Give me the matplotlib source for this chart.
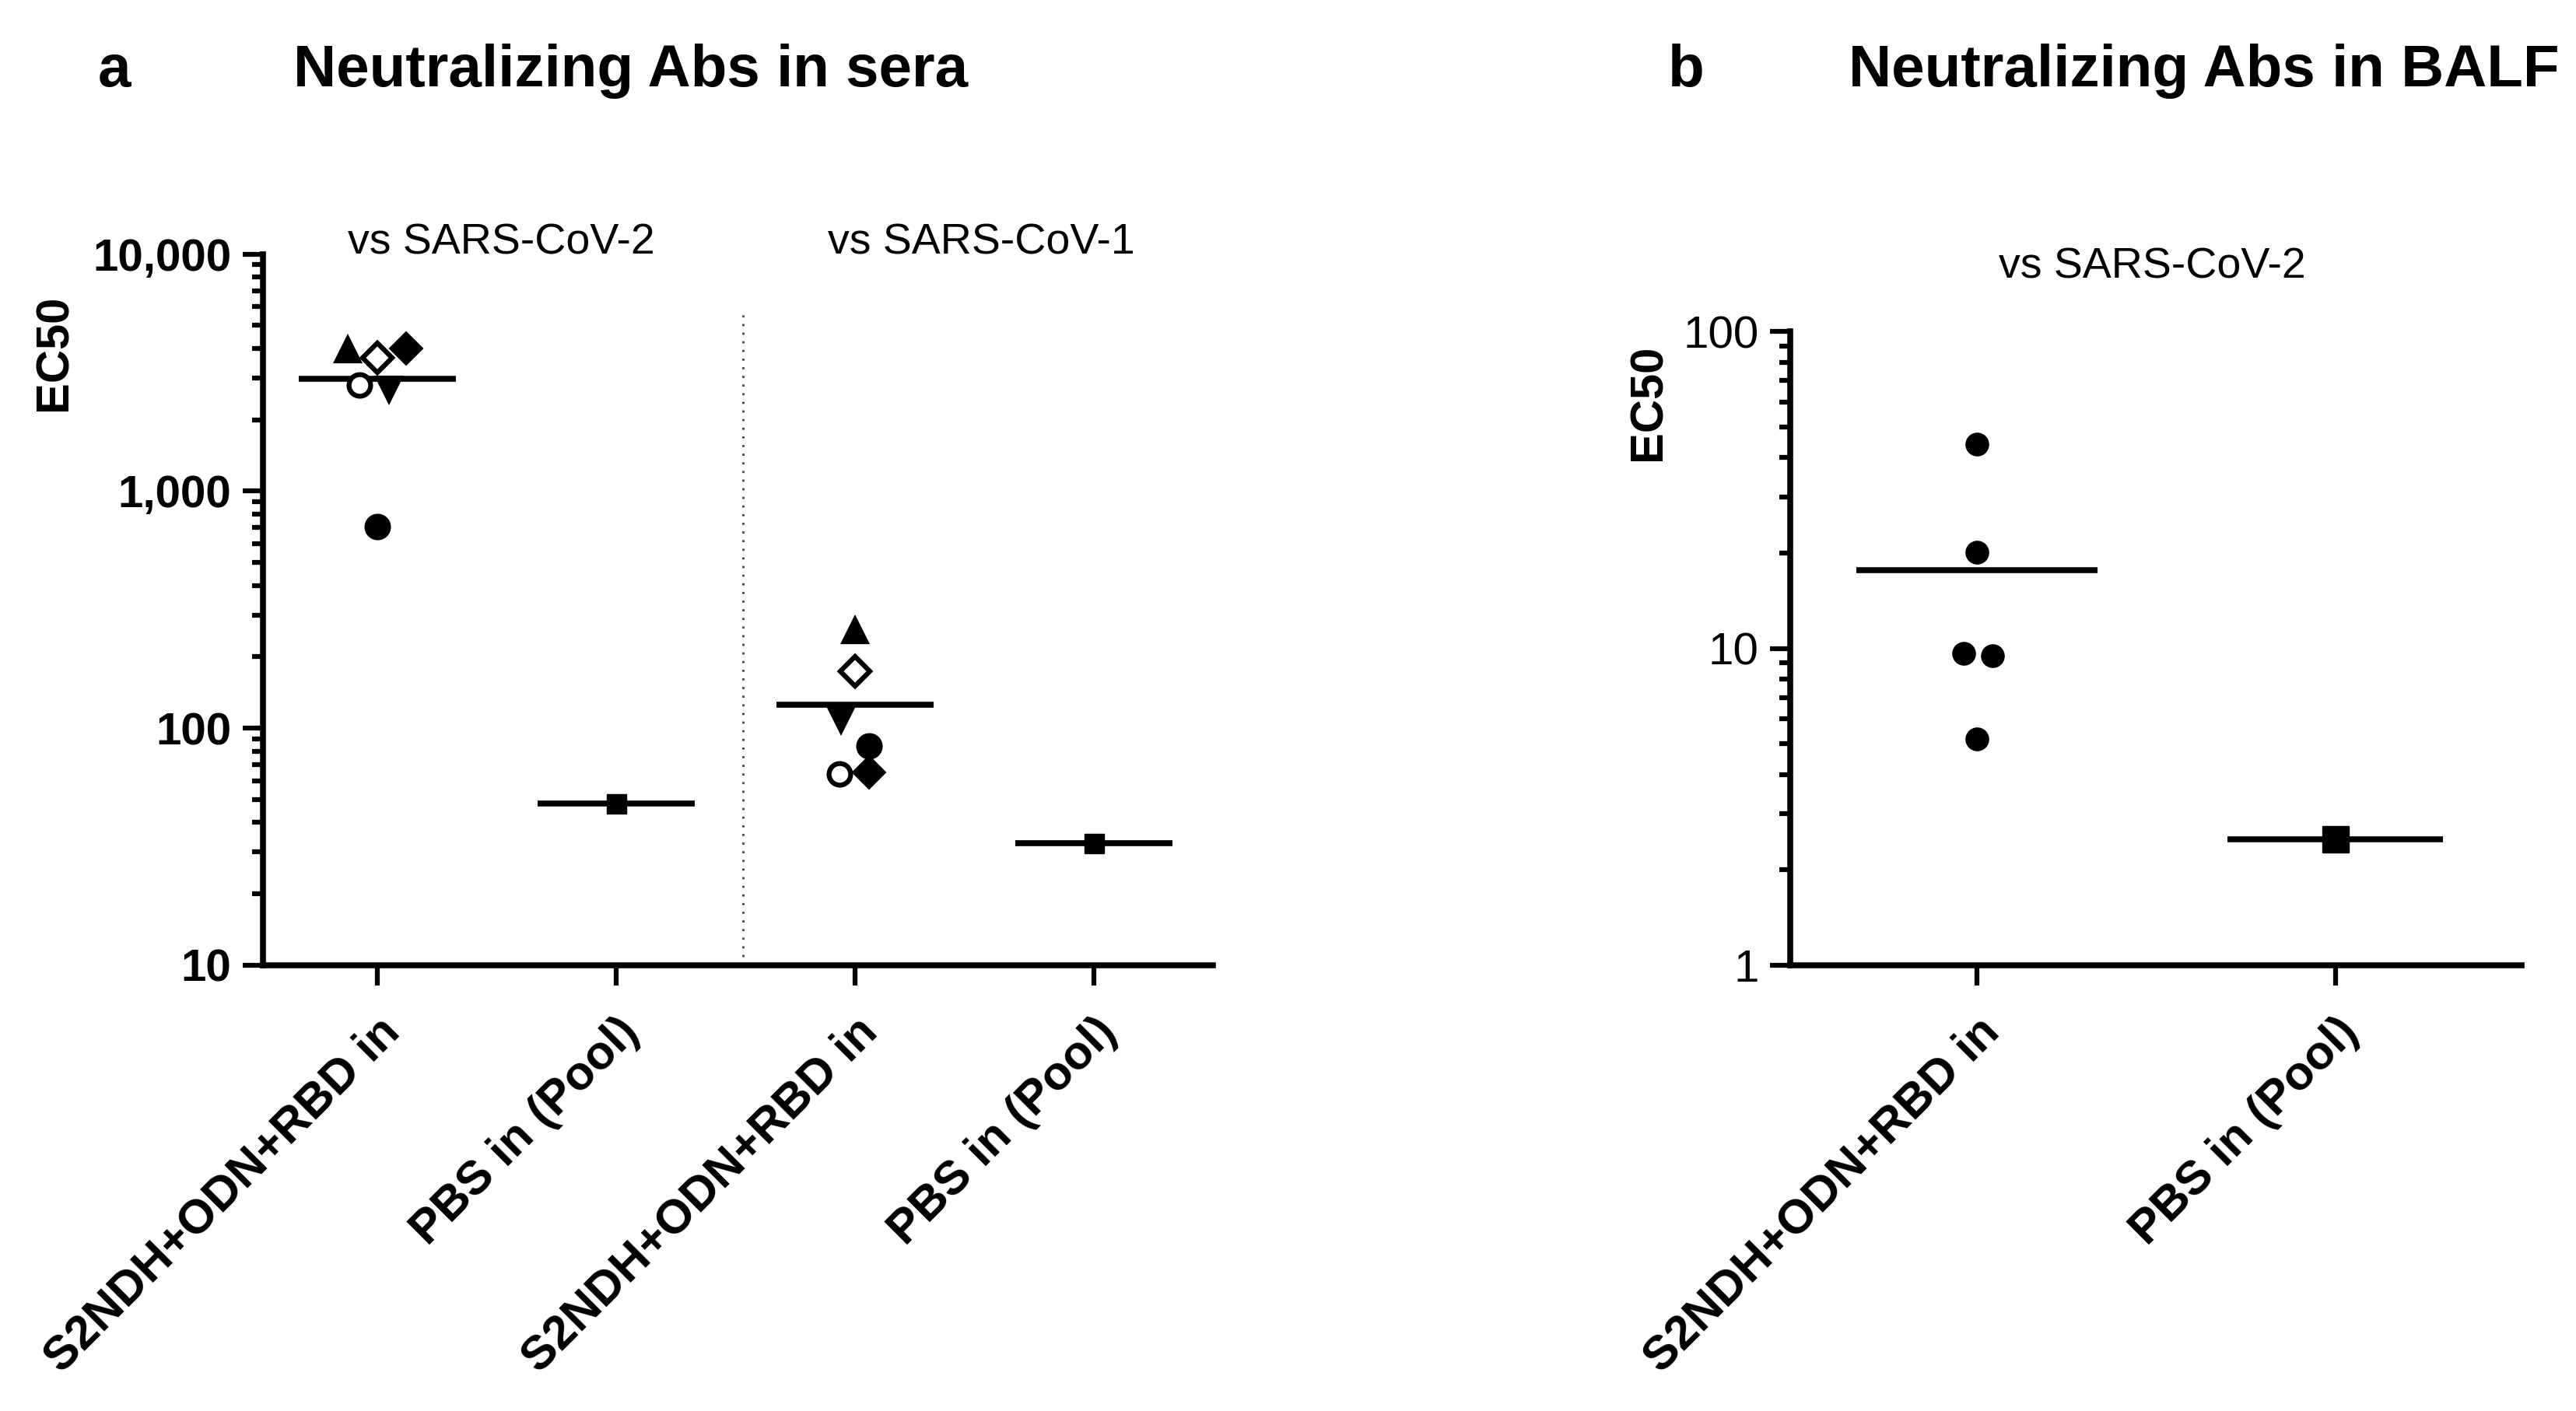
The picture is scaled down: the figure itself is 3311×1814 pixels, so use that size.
import numpy as np
import matplotlib
matplotlib.use("Agg")
import matplotlib.pyplot as plt
from matplotlib.ticker import FixedLocator, LogLocator, NullFormatter, FuncFormatter
import matplotlib.transforms as mtransforms

plt.rcParams["font.family"] = ["Liberation Sans", "DejaVu Sans"]

# ---- data ----
sera_groups = ["S2NDH+ODN+RBD in", "PBS in (Pool)", "S2NDH+ODN+RBD in", "PBS in (Pool)"]
# mice markers: filled circle, up triangle, down triangle, filled diamond, open circle, open diamond
sera_cov2 = [706, 3940, 2700, 4000, 2800, 3650]
sera_cov2_jitter = [0.0, -0.124, 0.05, 0.12, -0.075, 0.0]
sera_cov1 = [84, 258, 109, 65, 64, 173]
sera_cov1_jitter = [0.06, 0.0, -0.06, 0.06, -0.065, 0.0]
sera_pbs_cov2 = 48
sera_pbs_cov1 = 32.6

balf_groups = ["S2NDH+ODN+RBD in", "PBS in (Pool)"]
balf_s2 = [44, 20.1, 9.64, 9.5, 5.17]
balf_s2_jitter = [0.0, 0.0, -0.037, 0.043, 0.0]
balf_pbs = 2.49

mouse_markers = [
    dict(marker="o", ms=20, mfc="black"),
    dict(marker="^", ms=20, mfc="black"),
    dict(marker="v", ms=20, mfc="black"),
    dict(marker="D", ms=18, mfc="black"),
    dict(marker="o", ms=20, mfc="white"),
    dict(marker="D", ms=19, mfc="white"),
]

fig = plt.figure(figsize=(33.11, 18.14), dpi=100)
ax1 = fig.add_axes([0.102, 0.316, 0.369, 0.504])
ax2 = fig.add_axes([0.695, 0.316, 0.284, 0.449])
ax1.set_yscale("log")
ax2.set_yscale("log")


def style_axis(ax, bold_y):
    for s in ["top", "right"]:
        ax.spines[s].set_visible(False)
    for s in ["left", "bottom"]:
        ax.spines[s].set_linewidth(5.5)
        ax.spines[s].set_capstyle("projecting")
    ax.tick_params(axis="both", which="major", length=19, width=4.5, direction="out")
    ax.tick_params(axis="y", which="minor", length=10, width=4.5, direction="out")
    ax.tick_params(axis="y", which="major", pad=10, labelsize=42)
    ax.tick_params(axis="x", which="major", pad=22, labelsize=44)
    ax.yaxis.set_minor_locator(LogLocator(base=10, subs=np.arange(2, 10)))
    ax.yaxis.set_minor_formatter(NullFormatter())
    for lab in ax.get_yticklabels():
        lab.set_fontweight("bold" if bold_y else "normal")


def mean_line(ax, x, values, half):
    m = np.mean(values)
    ax.plot([x - half, x + half], [m, m], color="black", lw=5.5, solid_capstyle="butt", zorder=2)


def draw_mice(ax, x, values, jitter):
    for v, j, st in zip(values, jitter, mouse_markers):
        ax.plot(x + j, v, linestyle="none", marker=st["marker"], markersize=st["ms"],
                markerfacecolor=st["mfc"], markeredgecolor="black", markeredgewidth=4.5, zorder=3)


# ---- panel a ----
draw_mice(ax1, 0, sera_cov2, sera_cov2_jitter)
mean_line(ax1, 0, sera_cov2, 0.33)
ax1.plot(1, sera_pbs_cov2, "s", color="black", ms=18, zorder=3)
mean_line(ax1, 1, [sera_pbs_cov2], 0.33)
draw_mice(ax1, 2, sera_cov1, sera_cov1_jitter)
mean_line(ax1, 2, sera_cov1, 0.33)
ax1.plot(3, sera_pbs_cov1, "s", color="black", ms=18, zorder=3)
mean_line(ax1, 3, [sera_pbs_cov1], 0.33)

ax1.plot([1.53, 1.53], [10, 5700], color="#444444", lw=2, linestyle=(0, (1, 3)))
ax1.set_xlim(-0.48, 3.5)
ax1.set_ylim(10, 10000)
ax1.yaxis.set_major_locator(FixedLocator([10, 100, 1000, 10000]))
ax1.yaxis.set_major_formatter(FuncFormatter(lambda v, p: f"{int(round(v)):,}"))
ax1.set_xticks(range(len(sera_groups)))
ax1.set_xticklabels(sera_groups, rotation=45, ha="right", va="top",
                    rotation_mode="anchor", fontweight="bold")
style_axis(ax1, True)

t1 = mtransforms.blended_transform_factory(ax1.transData, ax1.transAxes)
ax1.text(0.52, 1.015, "vs SARS-CoV-2", transform=t1, ha="center", va="center", fontsize=40)
ax1.text(2.53, 1.015, "vs SARS-CoV-1", transform=t1, ha="center", va="center", fontsize=40)

# ---- panel b ----
for v, j in zip(balf_s2, balf_s2_jitter):
    ax2.plot(0 + j, v, "o", color="black", ms=21, zorder=3)
mean_line(ax2, 0, balf_s2, 0.336)
ax2.plot(1, balf_pbs, "s", color="black", ms=24, zorder=3)
mean_line(ax2, 1, [balf_pbs], 0.3)
ax2.set_xlim(-0.52, 1.52)
ax2.set_ylim(1, 100)
ax2.yaxis.set_major_locator(FixedLocator([1, 10, 100]))
ax2.yaxis.set_major_formatter(FuncFormatter(lambda v, p: f"{int(round(v))}"))
ax2.set_xticks(range(len(balf_groups)))
ax2.set_xticklabels(balf_groups, rotation=45, ha="right", va="top",
                    rotation_mode="anchor", fontweight="bold")
style_axis(ax2, False)

t2 = mtransforms.blended_transform_factory(ax2.transData, ax2.transAxes)
ax2.text(0.49, 1.102, "vs SARS-CoV-2", transform=t2, ha="center", va="center", fontsize=40)

# ---- titles and axis labels ----
fig.text(0.038, 0.939, "a", fontsize=55, fontweight="bold", va="baseline")
fig.text(0.114, 0.939, "Neutralizing Abs in sera", fontsize=55, fontweight="bold", va="baseline")
fig.text(0.6475, 0.939, "b", fontsize=55, fontweight="bold", va="baseline")
fig.text(0.7176, 0.939, "Neutralizing Abs in BALF", fontsize=55, fontweight="bold", va="baseline")
fig.text(0.021, 0.750, "EC50", rotation=90, fontsize=43, fontweight="bold", ha="center", va="center")
fig.text(0.640, 0.715, "EC50", rotation=90, fontsize=43, fontweight="bold", ha="center", va="center")

fig.savefig("out.png", dpi=100)
